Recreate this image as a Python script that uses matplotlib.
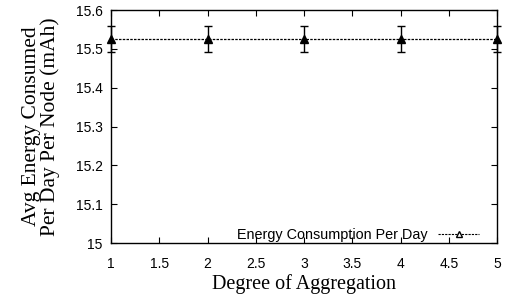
import matplotlib
matplotlib.use("Agg")
import matplotlib.pyplot as plt
from matplotlib.lines import Line2D

degree = [1, 2, 3, 4, 5]
energy = [15.525, 15.525, 15.525, 15.525, 15.525]
err = [0.033, 0.033, 0.033, 0.033, 0.033]
xticks = [1, 1.5, 2, 2.5, 3, 3.5, 4, 4.5, 5]
yticks = [15, 15.1, 15.2, 15.3, 15.4, 15.5, 15.6]

fig = plt.figure(figsize=(5.19, 2.97), dpi=100)
ax = fig.add_axes([111/519, 1-243/297, (497-111)/519, (243-10)/297])

ax.errorbar(degree, energy, yerr=err, fmt='none', ecolor='black', elinewidth=1.0,
            capsize=2.7, capthick=1.0, clip_on=False, zorder=3)
ax.plot(degree, energy, color='black', linestyle=(0, (2, 1)), linewidth=0.9,
        marker='^', markersize=6, markerfacecolor='black', markeredgecolor='black',
        clip_on=False, zorder=4)
h = Line2D([], [], color='black', linestyle=(0, (2, 1)), linewidth=0.8,
           marker='^', markersize=5, markerfacecolor='white', markeredgecolor='black')
ax.legend([h], ['Energy Consumption Per Day'], loc='lower right',
          bbox_to_anchor=(0.953, 0.004), frameon=False,
          markerfirst=False, handlelength=2.8, handletextpad=0.75,
          borderaxespad=0, borderpad=0,
          prop={'family': 'Liberation Sans', 'size': 10.4})

ax.set_xlim(1, 5)
ax.set_ylim(15, 15.6)
ax.set_xticks(xticks)
ax.set_xticklabels([('%g' % t) for t in xticks])
ax.set_yticks(yticks)
ax.set_yticklabels([('%g' % t) for t in yticks])
ax.tick_params(direction='in', top=True, right=True, length=4, width=0.8,
               labelsize=10)
ax.tick_params(axis='x', pad=10)
ax.tick_params(axis='y', pad=6)
for lab in ax.get_xticklabels() + ax.get_yticklabels():
    lab.set_family('Liberation Sans')
for s in ax.spines.values():
    s.set_linewidth(1.0)

ax.set_xlabel('Degree of Aggregation', family='Liberation Serif', fontsize=14.5, labelpad=2)
ax.set_ylabel('Avg Energy Consumed\nPer Day Per Node (mAh)', family='Liberation Serif',
              fontsize=15.5, linespacing=1.0, labelpad=11)

fig.savefig('out.png', dpi=100)
